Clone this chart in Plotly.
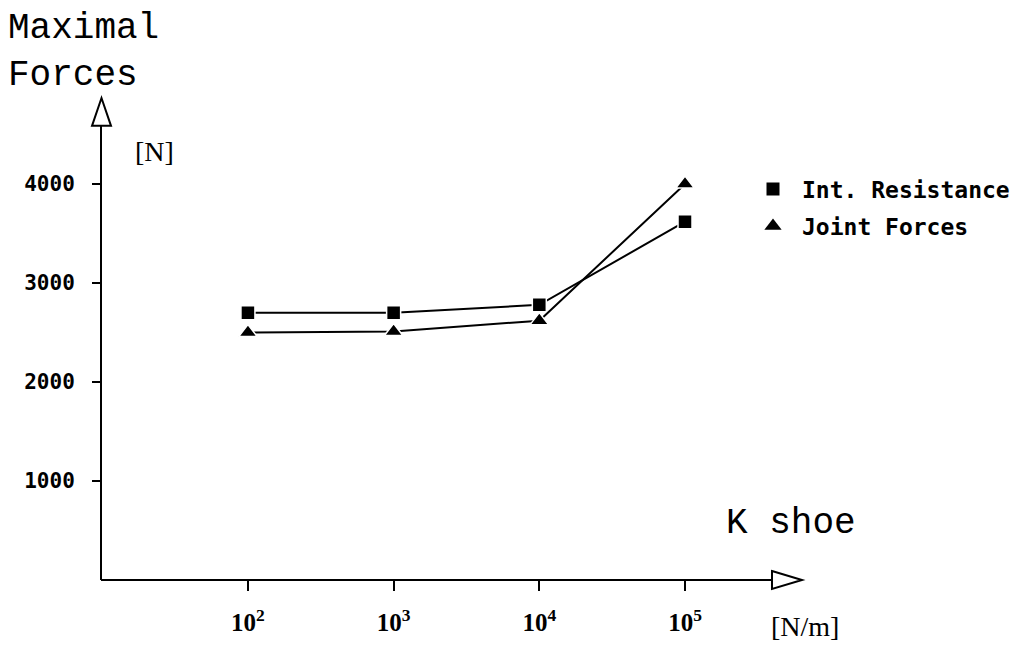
import plotly.graph_objects as go

# ---- data ----
k_shoe = [1e2, 1e3, 1e4, 1e5]
int_resistance = [2700, 2700, 2780, 3620]
joint_forces = [2500, 2510, 2620, 4000]
y_tickvals = [1000, 2000, 3000, 4000]
y_ticktext = ["1000", "2000", "3000", "4000"]
x_tickvals = [1e2, 1e3, 1e4, 1e5]
x_ticktext = ["10<sup>2</sup>", "10<sup>3</sup>", "10<sup>4</sup>", "10<sup>5</sup>"]

W, H = 1030, 648
L, R, T, B = 101, 802, 98, 583  # plot area in pixels


def px(x):
    return (x - L) / (R - L)


def py(y):
    return (B - y) / (B - T)


fig = go.Figure()

fig.add_trace(go.Scatter(
    x=k_shoe, y=int_resistance, mode="lines+markers", name="Int. Resistance",
    line=dict(color="black", width=2),
    marker=dict(symbol="square", size=14, color="black", line=dict(color="white", width=1.5)),
    showlegend=False))
fig.add_trace(go.Scatter(
    x=k_shoe, y=joint_forces, mode="lines+markers", name="Joint Forces",
    line=dict(color="black", width=2),
    marker=dict(symbol="triangle-up", size=16, color="black", line=dict(color="white", width=1.5)),
    showlegend=False))

# legend entries (markers only)
fig.add_trace(go.Scatter(x=[None], y=[None], mode="markers", name="Int. Resistance",
                         legendgroup="a",
                         marker=dict(symbol="square", size=13, color="black")))
fig.add_trace(go.Scatter(x=[None], y=[None], mode="markers", name="Joint Forces",
                         legendgroup="b",
                         marker=dict(symbol="triangle-up", size=15, color="black")))

# axis lines and open arrowheads
shapes = [
    dict(type="line", xref="paper", yref="paper", x0=0, y0=0, x1=px(772), y1=0,
         line=dict(color="black", width=2)),
    dict(type="line", xref="paper", yref="paper", x0=0, y0=0, x1=0, y1=py(126),
         line=dict(color="black", width=2)),
    dict(type="path", xref="paper", yref="paper",
         path=f"M {px(772)} {py(574)} L {px(802)} {py(583)} L {px(772)} {py(592)} Z",
         line=dict(color="black", width=2), fillcolor="white"),
    dict(type="path", xref="paper", yref="paper",
         path=f"M {px(92)} {py(126)} L {px(101.5)} {py(98)} L {px(111)} {py(126)} Z",
         line=dict(color="black", width=2), fillcolor="white"),
]

annotations = [
    dict(text="Maximal<br>Forces", x=px(6), y=py(5), xref="paper", yref="paper",
         xanchor="left", yanchor="top", align="left", showarrow=False,
         font=dict(family="Liberation Mono", size=36, color="black")),
    dict(text="[N]", x=px(133), y=py(152), xref="paper", yref="paper",
         xanchor="left", yanchor="middle", showarrow=False,
         font=dict(family="Liberation Serif", size=28, color="black")),
    dict(text="K shoe", x=px(724), y=py(526), xref="paper", yref="paper",
         xanchor="left", yanchor="middle", showarrow=False,
         font=dict(family="Liberation Mono", size=36, color="black")),
    dict(text="[N/m]", x=px(769), y=py(630), xref="paper", yref="paper",
         xanchor="left", yanchor="middle", showarrow=False,
         font=dict(family="Liberation Serif", size=28, color="black")),
]

fig.update_layout(
    width=W, height=H,
    margin=dict(l=L, r=W - R, t=T, b=H - B, pad=0),
    paper_bgcolor="white", plot_bgcolor="white",
    shapes=shapes, annotations=annotations,
    showlegend=True,
    legend=dict(x=px(744), y=py(168), xanchor="left", yanchor="top",
                font=dict(family="DejaVu Sans Mono", size=23, color="black", weight="bold"),
                itemwidth=48,
                tracegroupgap=4, traceorder="grouped", bgcolor="rgba(0,0,0,0)",
                itemclick=False, itemdoubleclick=False),
    xaxis=dict(type="log", range=[0.9914, 5.803], showgrid=False, zeroline=False,
               showline=False, tickmode="array", tickvals=x_tickvals, ticktext=x_ticktext,
               ticks="outside", ticklen=10, tickwidth=1.5, tickcolor="black",
               ticklabelstandoff=10,
               tickfont=dict(family="Liberation Serif", size=25, color="black", weight="bold")),
    yaxis=dict(range=[0, (B - T) / 0.0996], showgrid=False, zeroline=False,
               showline=False, tickmode="array", tickvals=y_tickvals, ticktext=y_ticktext,
               ticks="outside", ticklen=8, tickwidth=1.5, tickcolor="black",
               ticklabelstandoff=13,
               tickfont=dict(family="DejaVu Sans Mono", size=21, color="black", weight="bold")),
)

fig.write_html("out.html", config={"displayModeBar": False},
               post_script="document.body.style.margin='0';document.body.style.overflow='hidden';")
